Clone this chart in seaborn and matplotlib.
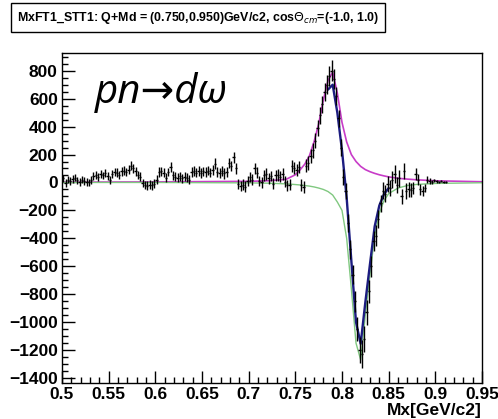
import matplotlib
matplotlib.use('Agg')
import matplotlib.pyplot as plt
import seaborn as sns
import numpy as np
import pandas as pd
from matplotlib.ticker import MultipleLocator

# ---- data ----
n_bins = 165
bin_start = 0.5
bin_width = 0.0025

counts = [
    30, -5, 20, 10, 25, 35, 15, 5, 20, 10,
    5, 0, 15, 45, 55, 40, 60, 50, 70, 45,
    20, 60, 75, 70, 55, 80, 85, 75, 90, 120,
    100, 80, 55, 40, -5, -20, -25, -15, -20, -10,
    20, 75, 80, 70, 35, 75, 110, 50, 40, 35,
    45, 30, 40, 35, 20, 75, 80, 70, 85, 65,
    80, 75, 85, 70, 90, 135, 75, 70, 80, 65,
    75, 140, 120, 180, 100, -10, -25, -15, -30, 10,
    40, 20, 100, 70, 10, 0, 50, 60, 30, 45,
    -10, 50, 55, 40, 60, 5, -20, -15, 120, 100,
    90, 110, -20, -35, 120, 140, 190, 230, 300, 390,
    480, 560, 650, 700, 760, 800, 740, 620, 460, 250,
    40, -60, -290, -480, -660, -850, -1050, -1200, -1230, -1120,
    -930, -780, -600, -420, -380, -260, -150, -60, -80, -10,
    -40, 20, 60, -20, 30, -100, 80, -60, -50, -55,
    -40, 60, 20, -50, -60, -40, 20, 10, 5, 15,
    8, 5, 10, 3, 5,
]

errors = [
    25, 28, 25, 27, 26, 28, 25, 27, 26, 28,
    27, 26, 28, 27, 29, 28, 30, 28, 29, 30,
    28, 30, 29, 31, 30, 32, 30, 31, 32, 33,
    32, 31, 30, 32, 31, 30, 32, 31, 33, 32,
    31, 33, 32, 34, 33, 32, 34, 33, 32, 34,
    33, 34, 33, 35, 34, 33, 35, 34, 36, 35,
    34, 36, 35, 34, 36, 38, 35, 36, 35, 37,
    36, 38, 37, 39, 38, 36, 37, 38, 37, 36,
    37, 38, 39, 38, 37, 39, 38, 40, 39, 38,
    40, 39, 41, 40, 42, 40, 41, 42, 44, 43,
    44, 45, 43, 44, 46, 48, 50, 52, 55, 58,
    60, 62, 65, 68, 72, 75, 70, 66, 62, 58,
    55, 58, 62, 66, 70, 75, 85, 95, 100, 95,
    88, 80, 75, 70, 72, 65, 60, 62, 60, 58,
    55, 60, 62, 58, 60, 55, 58, 55, 52, 50,
    45, 42, 40, 38, 35, 30, 25, 20, 15, 12,
    10, 8, 8, 6, 6,
]

curve_x = [0.5, 0.6, 0.7, 0.72, 0.74, 0.75, 0.755, 0.76, 0.765, 0.77, 0.775,
           0.78, 0.785, 0.79, 0.795, 0.8, 0.805, 0.81, 0.815, 0.82, 0.825,
           0.83, 0.835, 0.84, 0.845, 0.85, 0.86, 0.87, 0.88, 0.9, 0.95]
signal = [2, 4, 8, 12, 22, 55, 90, 130, 190, 290, 420,
          590, 730, 790, 640, 430, 290, 200, 150, 115, 92,
          77, 65, 55, 47, 40, 30, 24, 19, 12, 5]
interference = [0, 0, -3, -5, -10, -15, -18, -22, -26, -32, -40,
                -50, -65, -90, -140, -200, -400, -760, -1150, -1270, -950,
                -660, -380, -220, -130, -80, -40, -22, -14, -7, -2]

total_x = [0.785, 0.79, 0.795, 0.8, 0.805, 0.81, 0.815, 0.82, 0.825,
           0.83, 0.835, 0.84, 0.845, 0.85]
total = [665, 700, 500, 230, -110, -560, -1000, -1155, -858,
         -583, -315, -165, -83, -40]

# ---- plot ----
sns.set_style('white')
plt.rcParams['font.family'] = ['Liberation Sans', 'DejaVu Sans']
plt.rcParams['text.color'] = 'black'
plt.rcParams['xtick.color'] = 'black'
plt.rcParams['ytick.color'] = 'black'
plt.rcParams['xtick.labelcolor'] = 'black'
plt.rcParams['ytick.labelcolor'] = 'black'

fig = plt.figure(figsize=(4.98, 4.19), dpi=100)
ax = fig.add_axes([62/498, 1-383/419, 420/498, 330/419])

df_c = pd.DataFrame({'x': curve_x, 'sig': signal, 'int': interference})
df_t = pd.DataFrame({'x': total_x, 'tot': total})
sns.lineplot(data=df_c, x='x', y='sig', ax=ax, color='#c83cc8', lw=1.2)
sns.lineplot(data=df_c, x='x', y='int', ax=ax, color='#80c880', lw=1.0)
sns.lineplot(data=df_t, x='x', y='tot', ax=ax, color='#1c1c80', lw=1.7)

centers = bin_start + bin_width * (np.arange(n_bins) + 0.5)
ax.errorbar(centers, counts, yerr=errors, xerr=bin_width/2, fmt='none',
            ecolor='black', elinewidth=1.0, capsize=0)

ax.set_xlim(0.5, 0.95)
ax.set_ylim(-1436, 927)
ax.xaxis.set_major_locator(MultipleLocator(0.05))
ax.xaxis.set_minor_locator(MultipleLocator(0.01))
ax.yaxis.set_major_locator(MultipleLocator(200))
ax.yaxis.set_minor_locator(MultipleLocator(50))
ax.set_xticks([0.5, 0.55, 0.6, 0.65, 0.7, 0.75, 0.8, 0.85, 0.9, 0.95])
ax.set_xticklabels(['0.5', '0.55', '0.6', '0.65', '0.7', '0.75', '0.8', '0.85', '0.9', '0.95'])
ax.tick_params(axis='both', which='major', direction='in', length=9, width=1,
               labelsize=12.5, top=False, right=False, pad=3, colors='black')
ax.tick_params(axis='both', which='minor', direction='in', length=4.5, width=1,
               top=False, right=False, colors='black')
ax.tick_params(axis='both', which='both', left=True, bottom=True)
for lab in ax.get_xticklabels() + ax.get_yticklabels():
    lab.set_fontweight('bold')
    lab.set_color('black')
for sp in ax.spines.values():
    sp.set_color('black')
    sp.set_linewidth(1.0)
ax.set_xlabel('')
ax.set_ylabel('')
fig.text(482/498, 1-410/419, 'Mx[GeV/c2]', ha='right', va='center',
         fontsize=12.5, fontweight='bold', color='black')

ax.text(0.079, 0.848, 'pn\u2192d\u03c9', transform=ax.transAxes, fontsize=29,
        style='italic', family=['Open Sans', 'DejaVu Sans'], va='baseline', ha='left',
        color='black')

fig.text(17/498, 1-17.5/419,
         r'MxFT1_STT1: Q+Md = (0.750,0.950)GeV/c2, cos$\Theta_{cm}$=(-1.0, 1.0)',
         ha='left', va='center', fontsize=8.9, fontweight='bold', color='black',
         bbox=dict(boxstyle='square,pad=0.5', fc='white', ec='black', lw=1))

fig.savefig('out.png', dpi=100)
